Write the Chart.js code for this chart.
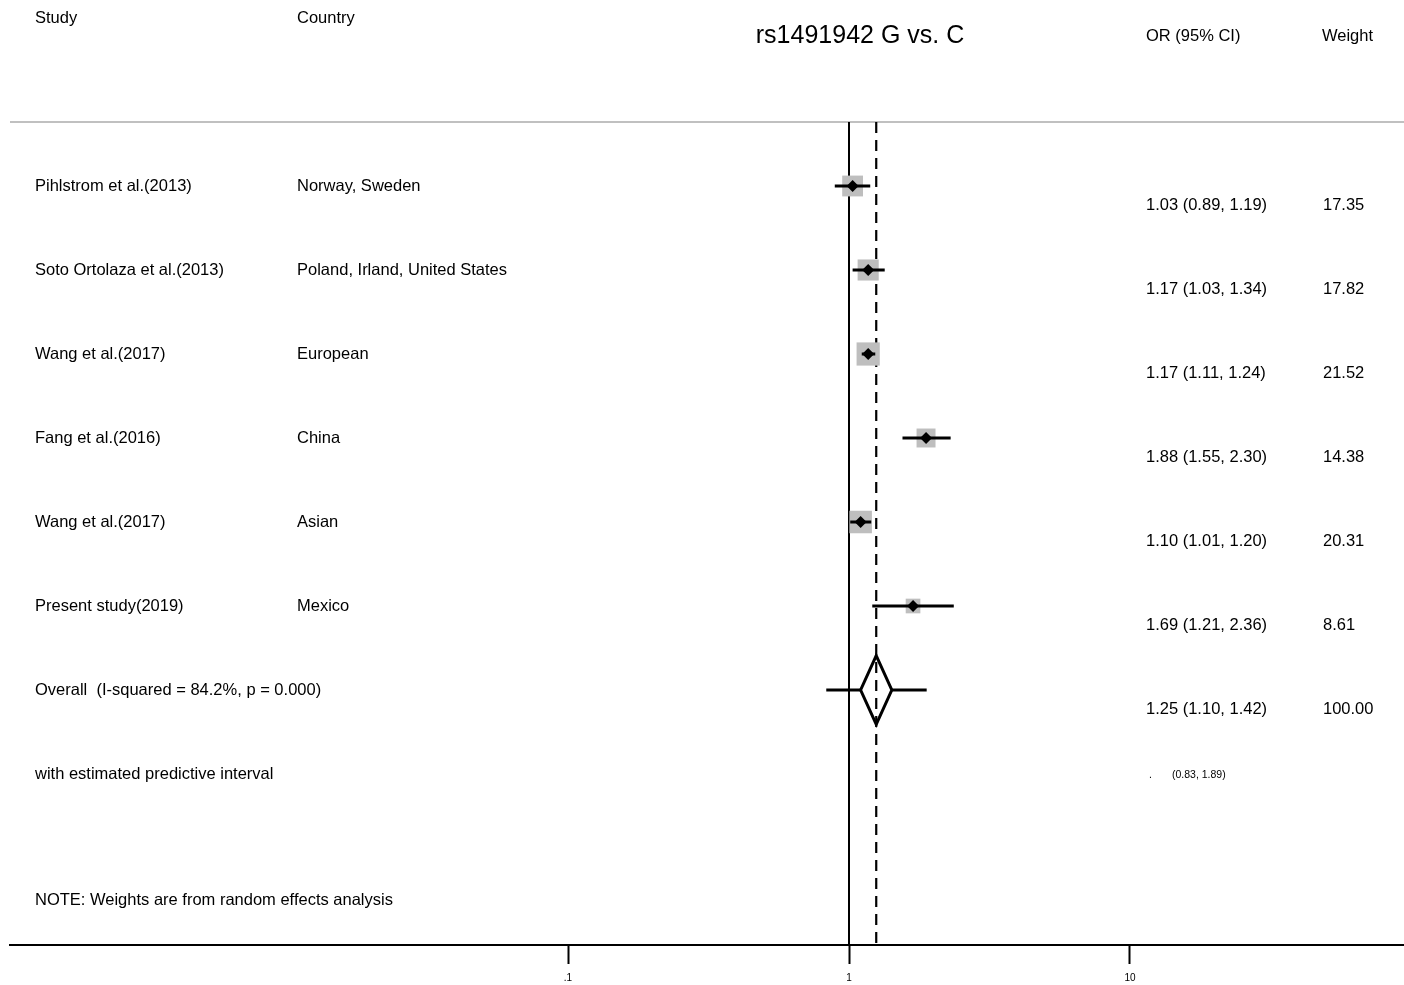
<!DOCTYPE html>
<html>
<head>
<meta charset="utf-8">
<title>rs1491942 G vs. C</title>
<script src="https://cdn.jsdelivr.net/npm/chart.js@4.4.1/dist/chart.umd.min.js"></script>
<style>
  html, body { margin: 0; padding: 0; background: #fff; }
  #forest { display: block; }
</style>
</head>
<body>
<canvas id="forest" width="1404" height="985"></canvas>
<script>
// study rows, top to bottom
const studies = ['Pihlstrom et al.(2013)', 'Soto Ortolaza et al.(2013)', 'Wang et al.(2017)', 'Fang et al.(2016)', 'Wang et al.(2017)', 'Present study(2019)'];
const countries = ['Norway, Sweden', 'Poland, Irland, United States', 'European', 'China', 'Asian', 'Mexico'];
const oddsRatios = [1.03, 1.17, 1.17, 1.88, 1.10, 1.69];
const ciLower = [0.89, 1.03, 1.11, 1.55, 1.01, 1.21];
const ciUpper = [1.19, 1.34, 1.24, 2.30, 1.20, 2.36];
const weights = [17.35, 17.82, 21.52, 14.38, 20.31, 8.61];

// pooled (random effects) estimate + predictive interval
const overallOR = 1.25;
const overallLower = 1.10;
const overallUpper = 1.42;
const predLower = 0.83;
const predUpper = 1.89;
const iSquared = 84.2;
const pValue = '0.000';

const xTicks = [0.1, 1, 10];
const xTickLabels = ['.1', '1', '10'];

// layout of the plot (row units on y, log OR on x)
const X_MIN = 0.001033, X_MAX = 94.44;
const Y_MIN = -2.2143, Y_MAX = 9.0357;
const RULE_ROW = -0.762;
const overallRow = studies.length;
const predRow = overallRow + 1;
const noteRow = 8.5;
const DIAMOND_H = 0.41;

const fmt = v => v.toFixed(2);

function seg(points, extra) {
  return Object.assign({
    type: 'scatter', showLine: true, data: points,
    borderColor: '#000', borderWidth: 3, pointRadius: 0, fill: false, tension: 0
  }, extra || {});
}

const datasets = [];
// reference lines: null effect and pooled estimate
datasets.push(seg([{ x: 1, y: RULE_ROW }, { x: 1, y: Y_MAX }], { borderWidth: 2, order: 9 }));
datasets.push(seg([{ x: overallOR, y: RULE_ROW }, { x: overallOR, y: Y_MAX }], { borderWidth: 2.2, borderDash: [11, 7], order: 9 }));
// grey rule under the header
datasets.push(seg([{ x: X_MIN, y: RULE_ROW }, { x: X_MAX, y: RULE_ROW }], { borderColor: '#c0c0c0', borderWidth: 2, order: 9 }));
// weight boxes
datasets.push({
  type: 'scatter', showLine: false, order: 6,
  data: oddsRatios.map((v, i) => ({ x: v, y: i })),
  pointStyle: 'rect',
  pointRadius: ctx => 5 * Math.sqrt(weights[ctx.dataIndex]) / Math.SQRT2,
  backgroundColor: '#bebebe', borderWidth: 0
});
// confidence intervals
oddsRatios.forEach((v, i) => {
  datasets.push(seg([{ x: ciLower[i], y: i }, { x: ciUpper[i], y: i }], { order: 3 }));
});
// point estimates
datasets.push({
  type: 'scatter', showLine: false, order: 1,
  data: oddsRatios.map((v, i) => ({ x: v, y: i })),
  pointStyle: 'rectRot', pointRadius: 6,
  backgroundColor: '#000', borderWidth: 0
});
// predictive interval either side of the diamond
datasets.push(seg([{ x: predLower, y: overallRow }, { x: overallLower, y: overallRow }], { order: 3 }));
datasets.push(seg([{ x: overallUpper, y: overallRow }, { x: predUpper, y: overallRow }], { order: 3 }));
// pooled diamond
datasets.push(seg([
  { x: overallLower, y: overallRow },
  { x: overallOR, y: overallRow - DIAMOND_H },
  { x: overallUpper, y: overallRow },
  { x: overallOR, y: overallRow + DIAMOND_H },
  { x: overallLower, y: overallRow },
  { x: overallOR, y: overallRow - DIAMOND_H }
], { borderJoinStyle: 'miter', order: 2 }));

const FONT = '"Liberation Sans", Arial, sans-serif';

const textPlugin = {
  id: 'forestText',
  afterDraw(chart) {
    const ctx = chart.ctx;
    const ys = chart.scales.y;
    ctx.save();
    ctx.fillStyle = '#000';
    ctx.textBaseline = 'middle';
    ctx.textAlign = 'left';
    ctx.font = '16.5px ' + FONT;
    ctx.fillText('Study', 35, 18);
    ctx.fillText('Country', 297, 18);
    ctx.fillText('OR (95% CI)', 1146, 36);
    ctx.fillText('Weight', 1322, 36);

    studies.forEach((s, i) => {
      const py = ys.getPixelForValue(i);
      ctx.fillText(s, 35, py);
      ctx.fillText(countries[i], 297, py);
      ctx.fillText(fmt(oddsRatios[i]) + ' (' + fmt(ciLower[i]) + ', ' + fmt(ciUpper[i]) + ')', 1146, py + 19);
      ctx.fillText(fmt(weights[i]), 1323, py + 19);
    });

    let py = ys.getPixelForValue(overallRow);
    ctx.fillText('Overall  (I-squared = ' + iSquared.toFixed(1) + '%, p = ' + pValue + ')', 35, py);
    ctx.fillText(fmt(overallOR) + ' (' + fmt(overallLower) + ', ' + fmt(overallUpper) + ')', 1146, py + 19);
    ctx.fillText('100.00', 1323, py + 19);

    py = ys.getPixelForValue(predRow);
    ctx.fillText('with estimated predictive interval', 35, py);
    ctx.font = '10.5px ' + FONT;
    ctx.fillText('.', 1149, py + 1);
    ctx.fillText('(' + fmt(predLower) + ', ' + fmt(predUpper) + ')', 1172, py + 1);

    ctx.font = '16.5px ' + FONT;
    ctx.fillText('NOTE: Weights are from random effects analysis', 35, ys.getPixelForValue(noteRow));

    ctx.font = '25px ' + FONT;
    ctx.textAlign = 'center';
    ctx.fillText('rs1491942 G vs. C', 860, 36);
    ctx.restore();
  }
};

new Chart(document.getElementById('forest'), {
  type: 'scatter',
  data: { datasets: datasets },
  plugins: [textPlugin],
  options: {
    responsive: false,
    animation: false,
    layout: { autoPadding: false, padding: { left: 10, right: 0, top: 0, bottom: 0 } },
    plugins: { legend: { display: false }, tooltip: { enabled: false } },
    scales: {
      x: {
        type: 'logarithmic',
        position: 'bottom',
        bounds: 'data',
        min: X_MIN,
        max: X_MAX,
        afterBuildTicks: scale => { scale.ticks = xTicks.map(v => ({ value: v })); },
        afterFit: scale => { scale.height = 40; },
        border: { display: true, color: '#000', width: 2 },
        grid: { drawOnChartArea: false, drawTicks: true, tickLength: 19, tickWidth: 2, tickColor: '#000' },
        ticks: {
          autoSkip: false, maxRotation: 0, padding: 8, color: '#000',
          font: { family: FONT, size: 10 },
          callback: (v, i) => xTickLabels[i]
        }
      },
      y: {
        type: 'linear',
        display: false,
        reverse: true,
        min: Y_MIN,
        max: Y_MAX
      }
    }
  }
});
</script>
</body>
</html>
